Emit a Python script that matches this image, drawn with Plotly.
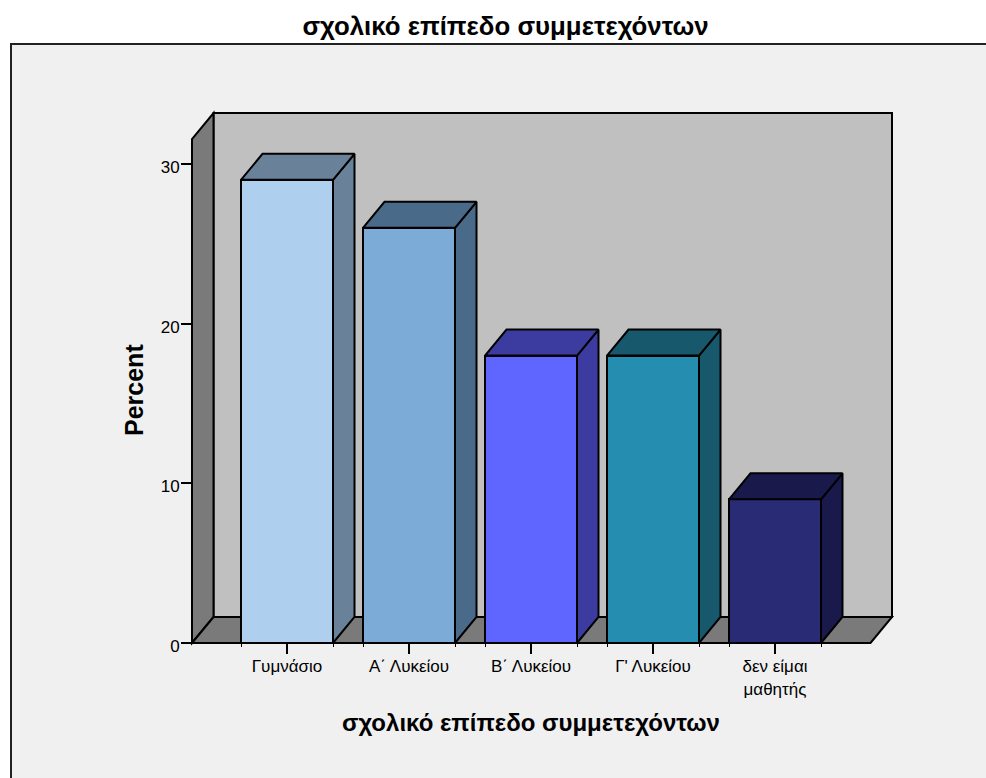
import plotly.graph_objects as go

categories = ["Γυμνάσιο", "Α΄ Λυκείου", "Β΄ Λυκείου", "Γ' Λυκείου", "δεν είμαι<br>μαθητής"]
percent = [29, 26, 18, 18, 9]
front_colors = ["#aed0ee", "#7dabd8", "#5f66ff", "#248db0", "#2a2b75"]
side_colors = ["#6a8299", "#4a6a8a", "#3c3ca0", "#17586d", "#191a4b"]
y_ticks = [0, 10, 20, 30]
title_text = "σχολικό επίπεδο συμμετεχόντων"
y_title = "Percent"

FIG_W, FIG_H = 986, 778
# box edges in page pixels
BOX_L, BOX_R, BOX_T, BOX_B = 192, 892, 113, 643
PAD = 5  # plot area is a little larger than the box so borders are not clipped
L, R, T, B = BOX_L - PAD, FIG_W - BOX_R - PAD, BOX_T - PAD, FIG_H - BOX_B - PAD
PX_PER_CAT = 122.0
PX_PER_UNIT = 15.97
BAR_W = 92 / PX_PER_CAT
DX_PX, DY_PX = 21.5, 26.0

dx = DX_PX / PX_PER_CAT
dy = DY_PX / PX_PER_UNIT
x_lo = -95 / PX_PER_CAT
x_hi = x_lo + (BOX_R - BOX_L) / PX_PER_CAT
y_hi = (BOX_B - BOX_T) / PX_PER_UNIT
x_floor_hi = x_hi - dx
x_pad = PAD / PX_PER_CAT
y_pad = PAD / PX_PER_UNIT


def poly(xs, ys):
    return "M " + " L ".join(f"{a},{b}" for a, b in zip(xs, ys)) + " Z"


def px(v):
    return (v - L) / (FIG_W - L - R)


def py(v):
    return (FIG_H - B - v) / (FIG_H - B - T)


fig = go.Figure()
fig.add_trace(go.Bar(
    x=list(range(len(percent))), y=percent, width=BAR_W,
    marker=dict(color=front_colors, line=dict(color="black", width=2)),
    hoverinfo="y", showlegend=False,
))

for i, v in enumerate(percent):
    xl, xr = i - BAR_W / 2, i + BAR_W / 2
    fig.add_trace(go.Scatter(
        x=[xr, xr + dx, xr + dx, xr, xr], y=[0, dy, v + dy, v, 0],
        mode="lines", fill="toself", fillcolor=side_colors[i],
        line=dict(color="black", width=2), hoverinfo="skip", showlegend=False,
    ))
    fig.add_trace(go.Scatter(
        x=[xl, xl + dx, xr + dx, xr, xl], y=[v, v + dy, v + dy, v, v],
        mode="lines", fill="toself", fillcolor=side_colors[i],
        line=dict(color="black", width=2), hoverinfo="skip", showlegend=False,
    ))

edge = dict(color="black", width=2)
shapes = [
    dict(type="rect", xref="paper", yref="paper", layer="below",
         x0=px(11), x1=px(1010), y0=py(800), y1=py(44),
         fillcolor="#f0f0f0", line=dict(color="#222222", width=2)),
    dict(type="path", xref="x", yref="y", layer="below", fillcolor="#c0c0c0", line=edge,
         path=poly([x_lo + dx, x_hi, x_hi, x_lo + dx], [dy, dy, y_hi, y_hi])),
    dict(type="path", xref="x", yref="y", layer="below", fillcolor="#7a7a7a", line=edge,
         path=poly([x_lo, x_lo + dx, x_lo + dx, x_lo], [0, dy, y_hi, y_hi - dy])),
    dict(type="path", xref="x", yref="y", layer="below", fillcolor="#7a7a7a", line=edge,
         path=poly([x_lo, x_lo + dx, x_hi, x_floor_hi], [0, dy, dy, 0])),
]

bar_edges = sorted(e for i in range(len(percent)) for e in (i - BAR_W / 2, i + BAR_W / 2))

annotations = [
    dict(text=f"<b>{title_text}</b>", xref="paper", yref="paper",
         x=px(531), y=py(722), xanchor="center", yanchor="middle",
         showarrow=False, font=dict(size=24)),
    dict(text=f"<b>{y_title}</b>", xref="paper", yref="paper",
         x=px(134), y=py(390), xanchor="center", yanchor="middle",
         textangle=-90, showarrow=False, font=dict(size=25)),
]

font = "Liberation Sans, Arial, sans-serif"
fig.update_layout(
    width=FIG_W, height=FIG_H,
    margin=dict(l=L, r=R, t=T, b=B, pad=0),
    paper_bgcolor="white", plot_bgcolor="rgba(0,0,0,0)",
    font=dict(family=font, color="black"),
    bargap=0, shapes=shapes, annotations=annotations, showlegend=False,
    title=dict(text=f"<b>{title_text}</b>", x=505.5 / FIG_W, xanchor="center",
               y=1 - 26 / FIG_H, yanchor="middle", yref="container",
               font=dict(size=25.8, family=font)),
    xaxis=dict(
        range=[x_lo - x_pad, x_hi + x_pad], tickmode="array",
        tickvals=list(range(len(categories))),
        ticktext=categories, ticks="outside", ticklen=10, tickwidth=2, tickcolor="black",
        tickfont=dict(size=17), showgrid=False, zeroline=False, showline=False,
        ticklabelstandoff=-2,
        anchor="free", position=py(BOX_B),
        minor=dict(tickmode="array", tickvals=bar_edges, ticks="outside", ticklen=3,
                   tickwidth=1, tickcolor="black", showgrid=False),
        automargin=False,
    ),
    yaxis=dict(
        range=[-y_pad, y_hi + y_pad], tickmode="array", tickvals=y_ticks,
        ticks="outside", ticklen=11, tickwidth=2, tickcolor="black",
        tickfont=dict(size=17), showgrid=False, zeroline=False, showline=False,
        ticklabelstandoff=-2, ticklabelshift=3,
        anchor="free", position=px(BOX_L),
        automargin=False,
    ),
)

fig.write_html("out.html", config=dict(displayModeBar=False),
               post_script="document.body.style.margin='0';")
